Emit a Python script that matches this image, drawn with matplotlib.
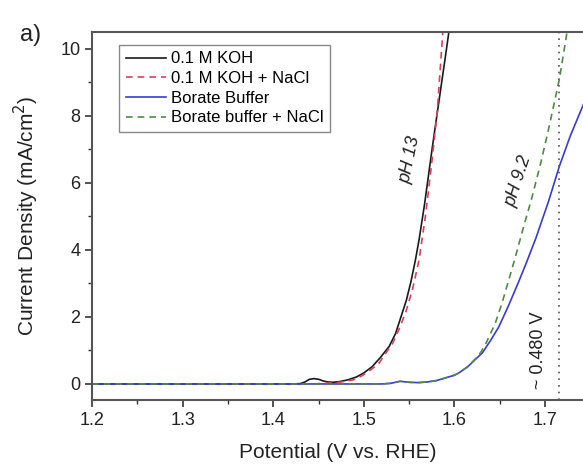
import matplotlib
matplotlib.use("Agg")
import matplotlib.pyplot as plt
from matplotlib.ticker import MultipleLocator

plt.rcParams['font.family'] = ['Liberation Sans', 'DejaVu Sans']

# data (potential in V vs. RHE, current in mA/cm2)
koh_x = [1.20, 1.42, 1.43, 1.435, 1.44, 1.445, 1.45, 1.455, 1.46, 1.466, 1.473,
         1.482, 1.492, 1.50, 1.509, 1.518, 1.528, 1.535, 1.541, 1.547, 1.552,
         1.557, 1.561, 1.567, 1.5756, 1.5833, 1.590, 1.596]
koh_y = [0.0, 0.0, 0.01, 0.06, 0.14, 0.16, 0.14, 0.09, 0.06, 0.05, 0.07,
         0.12, 0.21, 0.33, 0.51, 0.78, 1.12, 1.50, 2.00, 2.50, 3.05,
         3.70, 4.30, 5.35, 7.05, 8.50, 9.75, 10.90]

koh_nacl_x = [1.20, 1.44, 1.46, 1.47, 1.48, 1.488, 1.495, 1.503, 1.51, 1.517,
              1.525, 1.532, 1.54, 1.547, 1.554, 1.561, 1.568, 1.575, 1.581,
              1.5875]
koh_nacl_y = [0.0, 0.0, 0.02, 0.04, 0.08, 0.12, 0.20, 0.33, 0.47, 0.63,
              0.95, 1.22, 1.70, 2.20, 2.85, 3.70, 5.00, 6.60, 8.10,
              10.60]

borate_x = [1.20, 1.52, 1.53, 1.54, 1.55, 1.56, 1.57, 1.58, 1.59, 1.60, 1.605,
            1.615, 1.625, 1.631, 1.64, 1.649, 1.66, 1.671, 1.68, 1.69, 1.704,
            1.716, 1.728, 1.745]
borate_y = [0.0, 0.0, 0.02, 0.08, 0.05, 0.04, 0.06, 0.10, 0.18, 0.26, 0.33,
            0.52, 0.78, 0.93, 1.30, 1.70, 2.35, 3.05, 3.65, 4.35, 5.45,
            6.50, 7.40, 8.50]

borate_nacl_x = [1.20, 1.52, 1.53, 1.54, 1.55, 1.56, 1.57, 1.58, 1.59, 1.60,
                 1.605, 1.615, 1.625, 1.63, 1.635, 1.645, 1.653, 1.66, 1.668,
                 1.676, 1.685, 1.695, 1.704, 1.71, 1.716, 1.725]
borate_nacl_y = [0.0, 0.0, 0.02, 0.08, 0.05, 0.04, 0.06, 0.10, 0.18, 0.26,
                 0.33, 0.52, 0.80, 0.98, 1.22, 1.80, 2.45, 3.10, 3.85,
                 4.65, 5.50, 6.55, 7.60, 8.35, 9.10, 10.60]

overpotential_x = 1.716

fig = plt.figure(figsize=(5.83, 4.69), dpi=100)
ax = fig.add_axes([0.158, 0.147, 0.842, 0.785])

ax.plot(koh_x, koh_y, color="#1a1a1a", lw=1.2, label="0.1 M KOH")
ax.plot(koh_nacl_x, koh_nacl_y, color="#d9405e", lw=1.2, dashes=(4, 3),
        label="0.1 M KOH + NaCl")
ax.plot(borate_x, borate_y, color="#3b3bd0", lw=1.2, label="Borate Buffer")
ax.plot(borate_nacl_x, borate_nacl_y, color="#4f8a45", lw=1.2, dashes=(4, 3),
        label="Borate buffer + NaCl")

ax.axvline(overpotential_x, color="#555555", lw=1.2, linestyle=(0, (1, 3)))

ax.set_xlim(1.2, 1.742)
ax.set_ylim(-0.48, 10.5)
ax.xaxis.set_major_locator(MultipleLocator(0.1))
ax.xaxis.set_minor_locator(MultipleLocator(0.05))
ax.yaxis.set_major_locator(MultipleLocator(2))
ax.yaxis.set_minor_locator(MultipleLocator(1))
ax.tick_params(which="major", direction="out", length=5, width=1.2,
               labelsize=13, colors="#333333", labelcolor="#222222")
ax.tick_params(which="minor", direction="out", length=3, width=1.0,
               colors="#333333")

for side in ["left", "bottom", "top"]:
    ax.spines[side].set_color("#555555")
    ax.spines[side].set_linewidth(1.5)
ax.spines["right"].set_visible(False)

ax.set_xlabel("Potential (V vs. RHE)", fontsize=15, color="#222222", labelpad=10)
ax.set_ylabel("Current Density (mA/cm$^2$)", fontsize=15, color="#222222",
              labelpad=14)

ax.text(1.551, 6.7, "pH 13", fontsize=13, style="italic", rotation=78,
        ha="center", va="center", color="#222222")
ax.text(1.671, 6.05, "pH 9.2", fontsize=13, style="italic", rotation=72,
        ha="center", va="center", color="#222222")
ax.text(1.693, 1.0, "~ 0.480 V", fontsize=13, rotation=90,
        ha="center", va="center", color="#222222")

fig.text(0.035, 0.925, "a)", fontsize=17, ha="left", va="center",
         color="#222222")

leg = ax.legend(loc="upper left", bbox_to_anchor=(0.055, 0.965), fontsize=12,
                handlelength=2.4, handletextpad=0.3, labelspacing=0.28,
                borderpad=0.4, borderaxespad=0, fancybox=False, framealpha=1)
leg.get_frame().set_edgecolor("#888888")
leg.get_frame().set_linewidth(1.0)

plt.savefig("out.png", dpi=100)
